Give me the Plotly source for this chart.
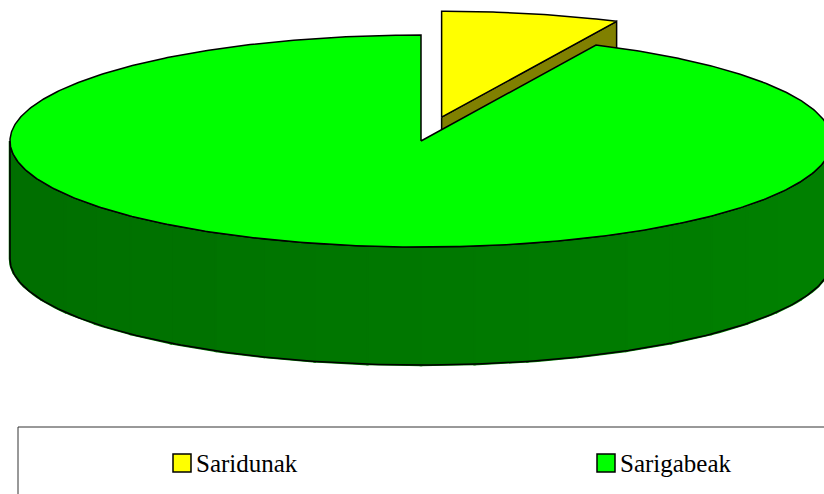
import numpy as np
import plotly.graph_objects as go

# Pie data
labels = ["Saridunak", "Sarigabeak"]
values = [7, 93]
top_colors = ["#FFFF00", "#00FF00"]
side_colors = ["#808000", "#007800"]
explode = [0.23, 0.0]

# Canvas and 3D pie geometry (pixel space)
W, H = 824, 494
CX, CY = 421, 141
RX, RY = 411, 106
DEPTH = 118
OUTLINE = dict(color="black", width=1.5)

fig = go.Figure()


def ell(theta, ox, oy, dz=0.0):
    t = np.radians(theta)
    return CX + ox + RX * np.sin(t), CY + oy - RY * np.cos(t) + dz


def poly(xs, ys, fill, line=OUTLINE):
    xs = list(xs) + [xs[0]]
    ys = list(ys) + [ys[0]]
    fig.add_trace(go.Scatter(x=xs, y=ys, mode="lines", fill="toself",
                             fillcolor=fill, line=line, hoverinfo="skip",
                             showlegend=False))


def wall_shade(theta, base):
    # darker towards the left of the wall, lighter on the right
    r = int(base[1:3], 16); g = int(base[3:5], 16); b = int(base[5:7], 16)
    f = 1.0 + 0.075 * np.sin(np.radians(theta))
    return "rgb(%d,%d,%d)" % (min(255, r * f), min(255, g * f), min(255, b * f))


total = float(sum(values))
angles = np.cumsum([0] + [v / total * 360 for v in values])

for i in range(len(values)):
    s, e = angles[i], angles[i + 1]
    mid = np.radians((s + e) / 2)
    ox = explode[i] * RX * np.sin(mid)
    oy = -explode[i] * RY * np.cos(mid)
    ax, ay = CX + ox, CY + oy

    # radial cut faces facing the viewer
    for a, sign in ((s, -1), (e, 1)):
        normal = a + sign * 90
        if np.cos(np.radians(normal)) < -1e-6:
            ex, ey = ell(a, ox, oy)
            poly([ax, ex, ex, ax], [ay, ey, ey + DEPTH, ay + DEPTH], side_colors[i])

    # front outer wall, drawn in thin shaded strips
    ws, we = max(s, 90), min(e, 270)
    if we > ws:
        edges = np.linspace(ws, we, 25)
        for a0, a1 in zip(edges[:-1], edges[1:]):
            th = np.linspace(a0, a1, 6)
            tx, ty = ell(th, ox, oy)
            c = wall_shade((a0 + a1) / 2, side_colors[i])
            poly(list(tx) + list(tx[::-1]), list(ty) + list(ty[::-1] + DEPTH), c,
                 line=dict(color=c, width=2.5))
        th = np.linspace(ws, we, 200)
        tx, ty = ell(th, ox, oy)
        fig.add_trace(go.Scatter(
            x=list(tx) + list(tx[::-1]) + [tx[0]],
            y=list(ty) + list(ty[::-1] + DEPTH) + [ty[0]],
            mode="lines", line=OUTLINE, hoverinfo="skip", showlegend=False))

    # top face
    th = np.linspace(s, e, max(8, int((e - s) * 2)))
    tx, ty = ell(th, ox, oy)
    poly([ax] + list(tx), [ay] + list(ty), top_colors[i])

# Legend frame, swatches and labels
shapes = [dict(type="rect", xref="x", yref="y", x0=18, y0=427, x1=W + 10, y1=H + 10,
               line=dict(color="#333333", width=1), fillcolor="rgba(0,0,0,0)")]
annotations = []
legend_x = [173, 597]
for lab, col, lx in zip(labels, top_colors, legend_x):
    shapes.append(dict(type="rect", xref="x", yref="y", x0=lx, y0=454, x1=lx + 18, y1=472,
                       line=dict(color="black", width=1.5), fillcolor=col))
    annotations.append(dict(x=lx + 21, y=463, xref="x", yref="y", text=lab,
                            showarrow=False, xanchor="left", yanchor="middle",
                            font=dict(family="'Liberation Serif', 'DejaVu Serif', serif",
                                      size=25, color="black")))

fig.update_layout(
    width=W, height=H,
    margin=dict(l=0, r=0, t=0, b=0),
    paper_bgcolor="white", plot_bgcolor="white",
    xaxis=dict(range=[0, W], visible=False, fixedrange=True),
    yaxis=dict(range=[H, 0], visible=False, fixedrange=True),
    shapes=shapes, annotations=annotations, showlegend=False,
)

fig.write_html("out.html")
